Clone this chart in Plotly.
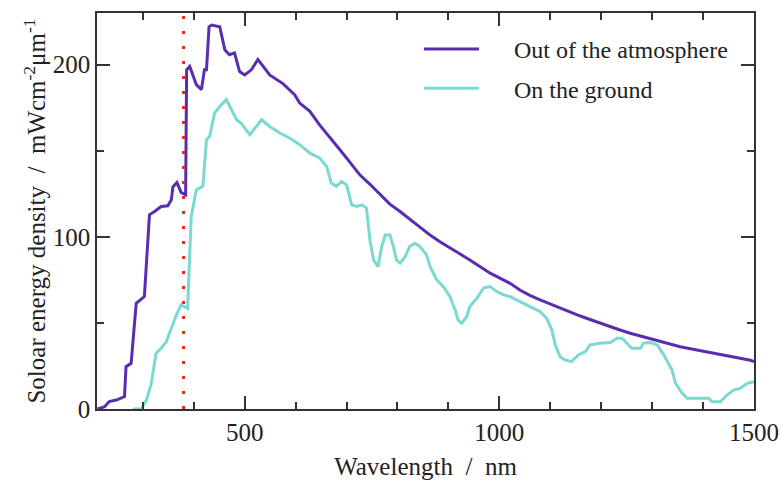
import plotly.graph_objects as go

# Solar spectral irradiance: outside the atmosphere vs. at ground level
wl_space = [211, 225, 234, 248, 264, 267, 277, 287, 303, 313, 323, 336, 349, 356,
            359, 367, 375, 384, 386, 392, 405, 415, 421, 425, 430, 435, 451, 461,
            470, 480, 490, 500, 513, 526, 539, 549, 575, 598, 608, 628, 647, 667,
            687, 706, 726, 746, 765, 785, 805, 825, 845, 864, 884, 903, 923, 942,
            962, 982, 1001, 1021, 1041, 1060, 1080, 1100, 1119, 1139, 1159, 1178,
            1198, 1218, 1237, 1257, 1277, 1296, 1316, 1336, 1355, 1375, 1395, 1414,
            1434, 1454, 1473, 1493, 1500]
irr_space = [0, 1.3, 4.3, 5.2, 7.2, 24.6, 26.5, 61.4, 65.3, 112.8, 114.7, 117.6,
             118, 121.5, 129, 131.6, 125.8, 124.4, 197, 199, 188.4, 185.5, 197, 197,
             222, 223, 222, 208.7, 205.8, 206.8, 196, 194, 197, 203, 198, 194, 189,
             182.6, 177.7, 172.9, 165, 158, 150.6, 143.5, 136, 130.5, 125, 119,
             114.7, 110, 105.5, 101, 97, 93.4, 90, 86.6, 82.7, 78.9, 76, 73, 69, 66,
             63.4, 61, 58.5, 56, 54, 52, 49.8, 48, 45.9, 44, 42.4, 41, 39.5, 37.8,
             36.2, 35, 33.9, 32.6, 31.4, 30.4, 29.5, 28.3, 27.5]

wl_ground = [280, 297, 307, 316, 326, 336, 346, 356, 366, 375, 382, 388, 395, 401,
             405, 418, 425, 431, 441, 454, 464, 474, 484, 493, 506, 510, 533, 549,
             569, 588, 608, 628, 647, 661, 670, 680, 690, 700, 710, 720, 730, 739,
             746, 753, 762, 769, 776, 785, 792, 798, 805, 815, 824, 834, 844, 857,
             864, 877, 890, 903, 913, 919, 926, 936, 942, 956, 969, 982, 995, 1008,
             1021, 1041, 1060, 1080, 1093, 1103, 1110, 1119, 1129, 1142, 1155, 1169,
             1178, 1198, 1218, 1231, 1241, 1251, 1260, 1277, 1283, 1296, 1310, 1323,
             1332, 1339, 1346, 1359, 1369, 1411, 1418, 1434, 1447, 1460, 1473, 1487,
             1500]
irr_ground = [0, 0, 5.2, 14, 32.4, 35.3, 39, 47, 54.7, 60.5, 59.5, 58.5, 111.8,
              121.5, 127.3, 129.3, 156.4, 158.3, 171.9, 176.7, 179.7, 173.8, 168,
              166, 160.3, 159.3, 168, 164.1, 160.3, 157.4, 153.5, 148.6, 145.8,
              140.9, 131.2, 129.3, 132.2, 130.2, 118.6, 117.6, 118.6, 116.7, 98,
              86.6, 82.7, 94.4, 101, 101, 94.4, 86.6, 84.7, 88.5, 94.4, 96.3, 94.4,
              89.5, 82.7, 75, 71, 65.3, 57.6, 51.7, 49.8, 53.7, 59.5, 64.4, 70.2,
              71.1, 68.2, 66.3, 65.3, 62.4, 59.5, 56.6, 52.7, 45.9, 37.2, 30.4, 28.5,
              27.5, 31.4, 33.3, 37.2, 38.2, 38.6, 41.1, 41.1, 38.2, 35.3, 35.3, 38.2,
              38.6, 37.2, 31.4, 26.6, 22.7, 14.9, 9.1, 6.2, 6.2, 4.2, 4.2, 8.1, 11,
              12, 14.9, 15.9]

uv_edge = 380  # nm, marked with a dotted line
x_range = [210, 1500]
y_range = [0, 230]
x_ticks = [500, 1000, 1500]
y_ticks = [0, 100, 200]

PURPLE = "#5a2db0"
TEAL = "#7bd9d0"
AXIS = "#333333"
INK = "#222222"
FONT = "Times New Roman, Liberation Serif, Tinos, DejaVu Serif, serif"
NB = "\u00a0"
PAD = NB * 5  # gap between legend sample and its label

fig = go.Figure()
fig.add_trace(go.Scatter(
    x=wl_space, y=irr_space, mode="lines", name=PAD + "Out of the atmosphere",
    line=dict(color=PURPLE, width=3), legendgroup="a"))
fig.add_trace(go.Scatter(
    x=wl_ground, y=irr_ground, mode="lines", name=PAD + "On the ground",
    line=dict(color=TEAL, width=3), legendgroup="b"))

fig.add_shape(type="line", xref="x", yref="paper", x0=uv_edge, x1=uv_edge,
              y0=0, y1=1, line=dict(color="#e8281e", width=3, dash="3px,12px"))

axis_common = dict(
    showline=True, linecolor=AXIS, linewidth=1.5, mirror="allticks",
    ticks="inside", ticklen=13, tickwidth=1.5, tickcolor=AXIS,
    showgrid=False, zeroline=False, automargin=False,
    tickfont=dict(family=FONT, size=25, color=INK),
)

fig.update_xaxes(
    range=x_range, tickvals=x_ticks, ticktext=[str(v) for v in x_ticks],
    minor=dict(dtick=100, tick0=0, ticks="inside", ticklen=7, tickwidth=1.5,
               tickcolor=AXIS, showgrid=False),
    title=dict(text="Wavelength" + NB * 2 + "/" + NB * 2 + "nm", standoff=13,
               font=dict(family=FONT, size=25, color=INK)),
    **axis_common)
fig.update_yaxes(
    range=y_range, tickvals=y_ticks, ticktext=[str(v) for v in y_ticks],
    minor=dict(dtick=50, tick0=0, ticks="inside", ticklen=7, tickwidth=1.5,
               tickcolor=AXIS, showgrid=False),
    # trailing spaces nudge the rotated title slightly downward
    title=dict(text="Soloar energy density" + NB * 2 + "/" + NB * 2
               + "mWcm<sup>-2</sup>μm<sup>-1</sup>" + NB * 4,
               standoff=0, font=dict(family=FONT, size=25, color=INK)),
    **axis_common)

fig.update_layout(
    width=782, height=480,
    margin=dict(l=97, r=28, t=13, b=71),
    plot_bgcolor="white", paper_bgcolor="white",
    font=dict(family=FONT, size=24, color=INK),
    legend=dict(x=0.49, y=0.965, xanchor="left", yanchor="top",
                bgcolor="rgba(0,0,0,0)", itemwidth=55, tracegroupgap=5,
                font=dict(family=FONT, size=24, color=INK)),
)

fig.write_html("out.html")
